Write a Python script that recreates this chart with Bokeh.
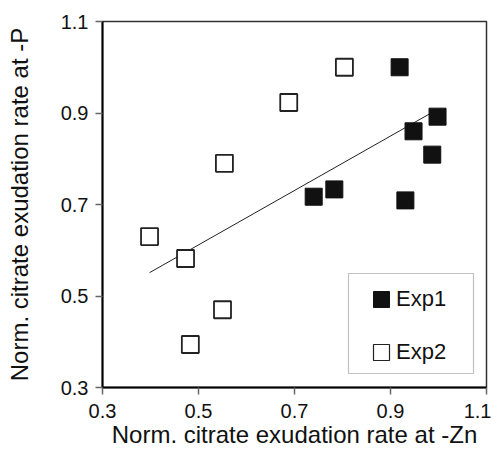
from bokeh.plotting import figure
from bokeh.models import Range1d, FixedTicker, Legend, LegendItem, BoxAnnotation
from bokeh.embed import file_html
from bokeh.resources import INLINE

# Data
exp1_x = [0.919, 0.998, 0.948, 0.987, 0.740, 0.783, 0.931]
exp1_y = [1.000, 0.892, 0.860, 0.809, 0.717, 0.733, 0.709]
exp2_x = [0.804, 0.688, 0.554, 0.398, 0.473, 0.550, 0.483]
exp2_y = [1.000, 0.923, 0.790, 0.630, 0.582, 0.470, 0.394]
trend_x = [0.398, 0.983]
trend_y = [0.551, 0.899]
ticks = [0.3, 0.5, 0.7, 0.9, 1.1]
series_names = ["Exp1", "Exp2"]

FONT = "Liberation Sans"
NAN = float("nan")

p = figure(width=491, height=452, output_backend="svg", toolbar_location=None,
           x_range=Range1d(0.3, 1.1), y_range=Range1d(0.3, 1.1),
           min_border_left=102, min_border_right=5, min_border_top=21, min_border_bottom=65)

p.grid.visible = False
p.background_fill_color = "white"
p.border_fill_color = "white"
p.outline_line_color = "#333333"
p.outline_line_width = 1.5

for ax in (p.xaxis[0], p.yaxis[0]):
    ax.ticker = FixedTicker(ticks=ticks)
    ax.minor_tick_line_color = None
    ax.major_tick_in = 0
    ax.major_tick_out = 7
    ax.major_tick_line_color = "#666666"
    ax.major_tick_line_width = 1.5
    ax.axis_line_color = "black"
    ax.axis_line_width = 2
    ax.major_label_text_font = FONT
    ax.major_label_text_font_size = "20px"
    ax.major_label_text_color = "#111111"
    ax.axis_label_text_font = FONT
    ax.axis_label_text_font_size = "24px"
    ax.axis_label_text_font_style = "normal"
    ax.axis_label_text_color = "#111111"

p.xaxis[0].axis_label = "Norm. citrate exudation rate at -Zn"
p.yaxis[0].axis_label = "Norm. citrate exudation rate at -P"
p.xaxis[0].major_label_standoff = 9
p.xaxis[0].axis_label_standoff = 0
p.yaxis[0].major_label_standoff = 7
p.yaxis[0].axis_label_standoff = 25

p.line(trend_x, trend_y, line_color="#222222", line_width=1)

p.scatter(exp1_x, exp1_y, marker="square", size=17,
          fill_color="#111111", line_color="#111111", line_width=1)
p.scatter(exp2_x, exp2_y, marker="square", size=17,
          fill_color="white", line_color="#222222", line_width=1.8)

# legend swatches (renderers with no visible data, used only for legend symbols)
k1 = p.quad(left=[NAN], right=[NAN], top=[NAN], bottom=[NAN],
            fill_color="#111111", line_color="#111111", line_width=1)
k2 = p.quad(left=[NAN], right=[NAN], top=[NAN], bottom=[NAN],
            fill_color="white", line_color="#222222", line_width=1.2)

# legend frame
p.add_layout(BoxAnnotation(left=246, right=371, bottom=14, top=114,
                           left_units="screen", right_units="screen",
                           bottom_units="screen", top_units="screen",
                           fill_color="white", fill_alpha=1,
                           line_color="#333333", line_width=1.2))

legend = Legend(items=[LegendItem(label=series_names[0], renderers=[k1]),
                       LegendItem(label=series_names[1], renderers=[k2])],
                location=(269, 22))
legend.label_text_font = FONT
legend.label_text_font_size = "22px"
legend.label_text_color = "#111111"
legend.glyph_width = 20
legend.glyph_height = 20
legend.label_height = 20
legend.label_standoff = 5
legend.label_width = 64
legend.padding = 0
legend.spacing = 27
legend.margin = 0
legend.border_line_color = None
legend.background_fill_alpha = 0
p.add_layout(legend, "center")

open("out.html", "w").write(file_html(p, INLINE))
